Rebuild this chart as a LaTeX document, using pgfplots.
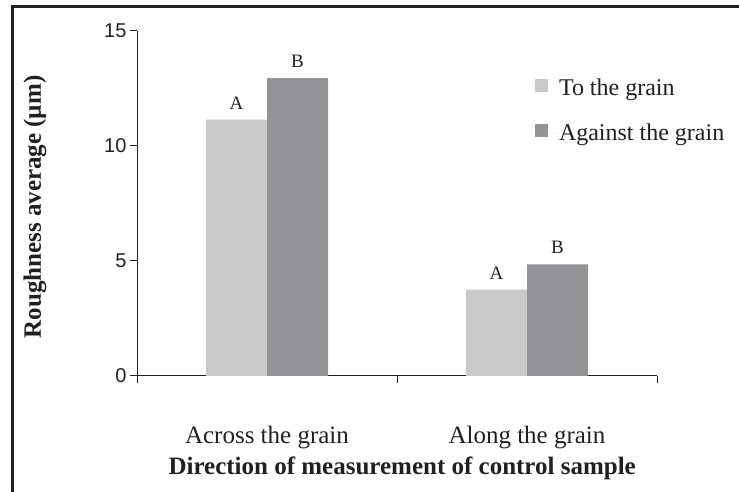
\documentclass[border=0pt]{standalone}
\usepackage{fontspec}
\setmainfont{Liberation Serif}
\setsansfont{Liberation Sans}
\usepackage{pgfplots}
\pgfplotsset{compat=1.18}
\definecolor{lightbar}{HTML}{C8C9CB}
\definecolor{darkbar}{HTML}{939497}
\definecolor{axcol}{HTML}{231F20}
\begin{document}
\begin{tikzpicture}[x=1pt,y=1pt]
\path[use as bounding box] (0,0) rectangle (739,492);
\draw[line width=3pt, color=axcol] (12,0) -- (12,485.5) -- (739,485.5);
\begin{axis}[
  at={(137pt,116pt)}, anchor=south west,
  scale only axis, width=520pt, height=345pt,
  xmin=-0.5, xmax=1.5, ymin=0, ymax=15,
  axis x line*=bottom, axis y line*=left,
  axis line style={-, color=axcol, line width=1pt},
  every tick/.style={color=axcol, line width=1pt},
  tick align=outside, major tick length=7pt,
  ytick={0,5,10,15},
  xtick={-0.5,0.5,1.5}, xticklabels={},
  extra x ticks={0,1},
  extra x tick labels={Across the grain, Along the grain},
  extra x tick style={major tick length=0pt, tick label style={yshift=-47pt}},
  /pgf/number format/assume math mode=true,
  yticklabel style={font=\sffamily\fontsize{20}{20}\selectfont, color=axcol},
  xticklabel style={font=\fontsize{25}{25}\selectfont, color=axcol},
  xlabel={\textbf{Direction of measurement of control sample}},
  xlabel style={at={(axis description cs:0.51,0)}, anchor=north, yshift=-77pt, font=\fontsize{25}{25}\selectfont, color=axcol},
  ylabel={\textbf{Roughness average (µm)}},
  ylabel style={at={(axis description cs:0,0.49)}, anchor=south, yshift=87pt, font=\fontsize{25}{25}\selectfont, color=axcol},
  ybar=0pt, bar width=61pt,
  nodes near coords, point meta=explicit symbolic,
  every node near coord/.append style={font=\fontsize{19}{19}\selectfont, color=axcol, yshift=7pt},
  legend style={at={(rel axis cs:0.765,0.867)}, anchor=north west, draw=none, fill=none,
    font=\fontsize{24}{24}\selectfont, text=axcol, row sep=23pt, inner sep=0pt},
  legend cell align=left,
  legend image code/.code={\fill[#1] (0pt,-4pt) rectangle (13pt,9pt); \path (0pt,0pt) -- (22pt,0pt);},
]
\addplot[fill=lightbar, draw=none] coordinates {(0,11.15)[A] (1,3.75)[A]};
\addplot[fill=darkbar, draw=none] coordinates {(0,12.95)[B] (1,4.85)[B]};
\legend{To the grain, Against the grain}
\end{axis}
\end{tikzpicture}
\end{document}
